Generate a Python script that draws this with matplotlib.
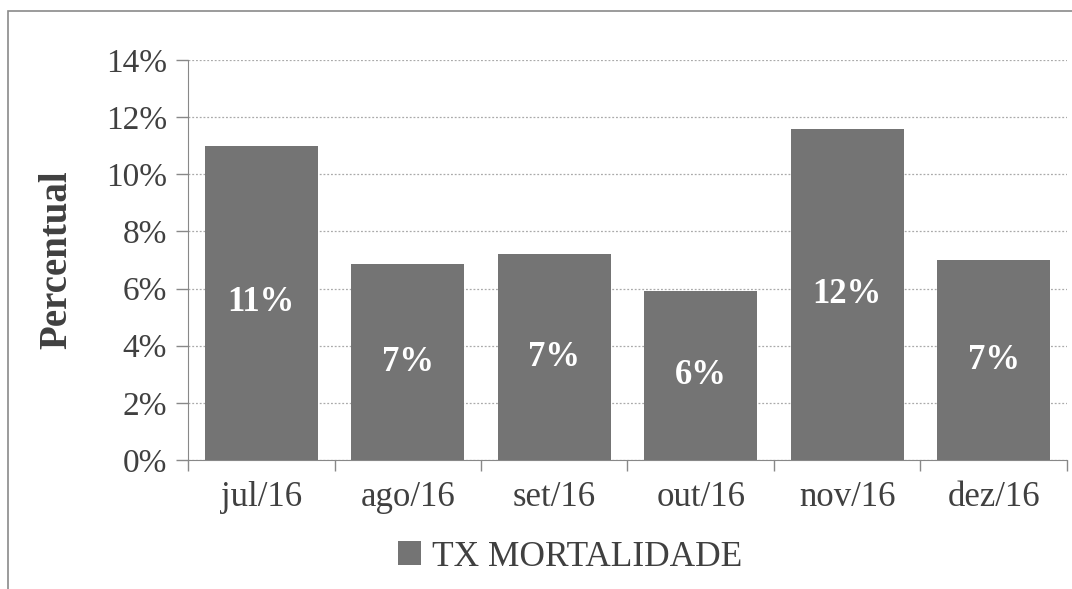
import matplotlib.pyplot as plt
from matplotlib.patches import Rectangle
from matplotlib.ticker import FuncFormatter, FixedLocator

meses = ['jul/16', 'ago/16', 'set/16', 'out/16', 'nov/16', 'dez/16']
tx_mortalidade = [11.0, 6.85, 7.2, 5.9, 11.6, 7.0]
rotulos = ['11%', '7%', '7%', '6%', '12%', '7%']

plt.rcParams['font.family'] = ['Liberation Serif', 'DejaVu Serif']

fig = plt.figure(figsize=(10.72, 5.89), dpi=100)
ax = fig.add_axes([0.1754, 0.219, 0.8199, 0.679])

# moldura do grafico (cortada na direita e embaixo)
fig.patches.append(Rectangle((8 / 1072, -0.05), 1.2, 1 - 11 / 589 + 0.05,
                             transform=fig.transFigure, fill=False,
                             edgecolor='#8a8a8a', linewidth=1.2))

x = list(range(len(meses)))
bars = ax.bar(x, tx_mortalidade, width=0.77, color='#747474',
              label='TX MORTALIDADE', zorder=3)

for b, txt in zip(bars, rotulos):
    ax.text(b.get_x() + b.get_width() / 2, b.get_height() / 2, txt,
            ha='center', va='center', color='white', fontsize=25,
            fontweight='bold', zorder=4)

ax.set_xlim(-0.5, len(meses) - 0.5)
ax.set_ylim(0, 14)
ax.set_yticks(range(0, 15, 2))
ax.yaxis.set_major_formatter(FuncFormatter(lambda v, p: f'{v:.0f}%'))
ax.set_xticks(x)
ax.set_xticklabels(meses)
ax.xaxis.set_minor_locator(FixedLocator([i - 0.5 for i in range(len(meses) + 1)]))

ax.tick_params(axis='x', which='major', length=0, pad=15, labelsize=25,
               labelcolor='#404040')
ax.tick_params(axis='x', which='minor', length=8, color='#888888', width=1)
ax.tick_params(axis='y', length=9, color='#888888', width=1, pad=6,
               labelsize=24, labelcolor='#404040')

ax.grid(axis='y', linestyle=(0, (1.5, 1.5)), color='#aaaaaa', linewidth=0.9, zorder=0)
for s in ['top', 'right']:
    ax.spines[s].set_visible(False)
ax.spines['left'].set_color('#888888')
ax.spines['bottom'].set_color('#888888')

ax.set_ylabel('Percentual', fontsize=28, fontweight='bold', color='#404040',
              labelpad=22)

fig.legend(loc='center', bbox_to_anchor=(570 / 1072, 1 - 557 / 589),
           frameon=False, fontsize=25.5, handlelength=0.65, handleheight=0.65,
           handletextpad=0.3, labelcolor='#404040')

fig.savefig('out.png', dpi=100)
